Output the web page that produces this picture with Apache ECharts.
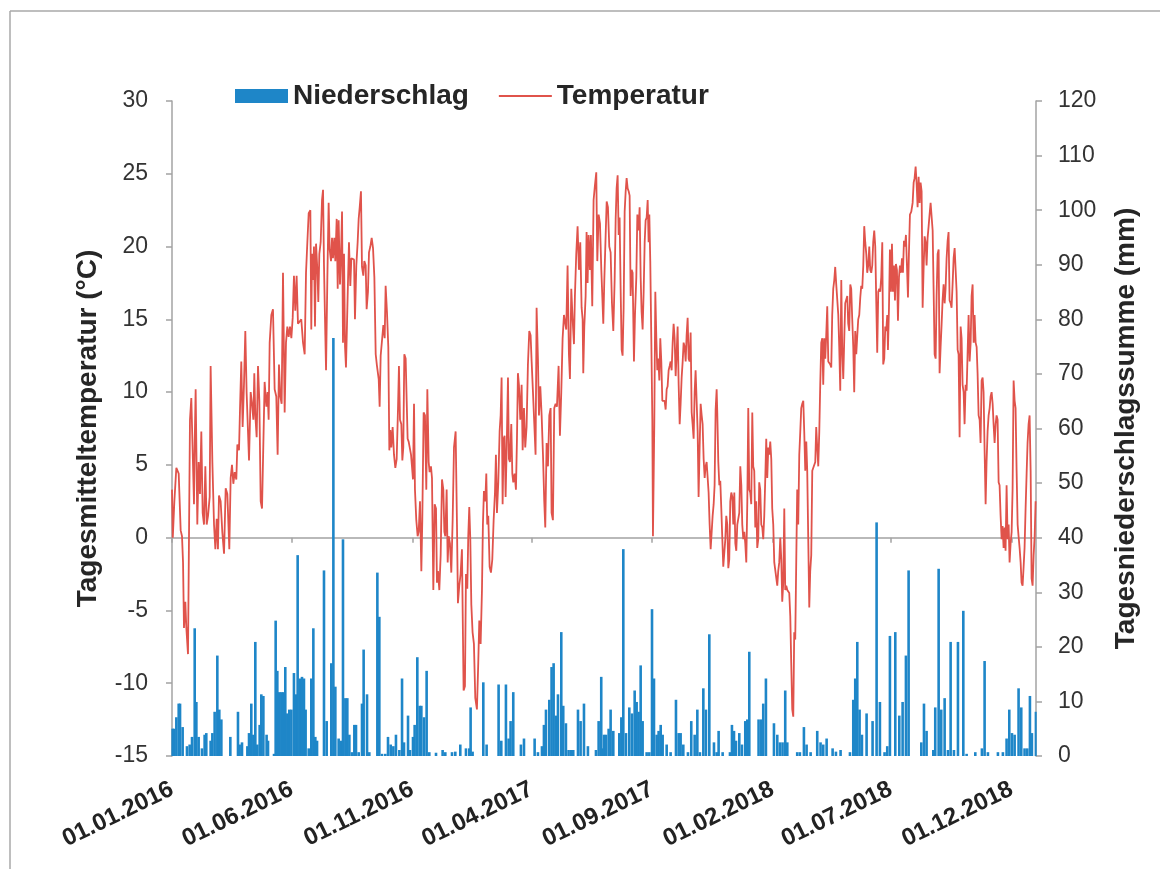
<!DOCTYPE html>
<html>
<head>
<meta charset="utf-8">
<script src="https://cdn.jsdelivr.net/npm/echarts@6/dist/echarts.min.js"></script>
<style>html,body{margin:0;padding:0;background:#fff}#c{width:1160px;height:869px}</style>
</head>
<body>
<div id="c"></div>
<script>
// ---- data ----
const startDate = '2016-01-01';
const endDate = '2019-01-01';
const tickLabels = ['01.01.2016','01.06.2016','01.11.2016','01.04.2017','01.09.2017','01.02.2018','01.07.2018','01.12.2018'];
const seriesNames = ['Niederschlag', 'Temperatur'];
const leftAxisTitle = 'Tagesmitteltemperatur (°C)';
const rightAxisTitle = 'Tagesniederschlagssumme (mm)';

// [day offset since 01.01.2016, daily mean temperature °C]
const temperature = [
[0,3.3],[1,0.0],[3,2.5],[5.5,4.8],[8.5,4.4],[11,0.5],[12.7,0.1],[14,-1.7],[15.2,-6.2],[16.9,-4.4],[18.2,-6.2],[20.3,-8.0],[22.8,8.1],[24.5,9.6],[26.2,6.0],[27.9,2.3],[28.8,6.5],[30,10.2],[32.1,0.9],[33.8,5.2],[35.5,3.0],[37.2,7.3],[38.9,1.7],[40.6,0.9],[42.3,4.9],[44,0.9],[45.7,1.5],[47.8,2.8],[49,11.8],[51.2,5.2],[53.3,0.9],[55,-0.8],[56.7,1.3],[58.3,-0.8],[59.6,2.9],[61.7,2.5],[63.8,0.4],[66,-1.1],[68.1,3.4],[70.2,3.0],[72.7,-0.8],[74.4,4.1],[76.1,5.0],[77.8,3.7],[79.5,4.5],[81.6,4.0],[82.9,6.4],[85,6.0],[86.3,8.9],[87.9,12.1],[89.6,7.6],[91.3,10.5],[93,14.2],[94.7,9.9],[96.4,7.3],[97.7,5.3],[99.8,10.0],[101.5,9.2],[103.2,8.1],[104.4,11.3],[105.7,8.4],[107.4,6.9],[109.1,11.8],[110.8,9.4],[112.5,2.5],[114.2,2.0],[116.3,1.9],[117.5,10.7],[119.7,9.0],[121.3,10.0],[122.6,8.1],[123.9,13.4],[126,15.3],[128.1,15.7],[130.2,10.2],[132.3,9.7],[134,5.7],[135.7,11.9],[137.4,9.7],[139.1,9.2],[140.8,18.2],[142.9,8.6],[144.6,13.4],[146.3,14.5],[148,13.8],[149.7,14.5],[151.4,13.7],[153.1,15.1],[154.7,18.0],[156.4,15.6],[158.1,18.0],[159.8,14.7],[161.9,14.6],[164,15.0],[166.2,13.4],[168.3,12.6],[170,18.2],[171.7,20.3],[173.4,22.3],[175.5,22.5],[176.7,14.3],
[177.6,19.5],[178.9,17.7],[180.1,20.0],[181.4,14.5],[182.7,20.2],[184.4,18.4],[185.6,16.2],[186.9,19.5],[188.6,20.3],[190.3,23.2],[191.6,23.9],[192.8,18.7],[194.5,13.9],[195.4,11.5],[197.1,17.9],[198.7,23.0],[200,19.8],[201.7,19.0],[203,20.6],[204.2,19.2],[205.9,20.6],[207.2,19.0],[208.9,21.9],[210.2,17.1],[211.4,21.8],[213.1,17.4],[214.4,19.5],[215.7,22.4],[216.9,13.4],[218.2,19.5],[219.5,13.1],[220.7,11.7],[222,14.7],[223.3,17.7],[224.5,20.3],[226.2,17.3],[227.5,19.2],[229.2,19.2],[230.9,19.1],[232.1,15.0],[233.8,18.7],[235.5,20.3],[236.8,21.9],[238.1,22.7],[239.7,23.8],[241,18.6],[242.7,18.0],[244,19.0],[245.7,18.7],[246.9,15.7],[248.6,16.9],[249.9,19.6],[251.6,20.0],[253.3,20.6],[255,19.9],[256.7,17.9],[258.4,12.6],[260,11.8],[262.2,10.9],[263.4,9.0],[264.7,12.5],[266.4,12.6],[268.1,14.6],[269.8,13.7],[271,17.3],[272.7,15.5],[274.4,13.1],[275.7,6.0],[277,7.4],[278.2,6.2],[279.9,7.6],[281.6,5.7],[283.3,4.8],[285,5.4],[286.7,8.9],[287.9,11.8],[289.2,8.1],[290.9,7.8],[292.2,5.3],[293.4,6.2],[294.7,12.6],[296.4,12.3],[297.7,9.4],[298.9,6.8],[300.2,6.6],[301.5,6.5],[303.2,5.7],[304.4,4.9],[305.7,4.0],[307,9.2],[308.2,3.3],[309.9,1.2],[311.6,0.1],[312.9,0.4],[314.6,2.5],[316.3,-2.3],[317.5,1.2],[319.2,8.6],[320.9,8.4],[322.6,3.3],[323.9,10.2],[325.6,5.2],[326.8,4.5],[328.5,4.9],[329.8,4.1],[331.5,-3.6],[333.2,2.3],[334.9,2.0],[336.1,-3.1],[337.4,-2.3],[339.1,-3.6],[340.8,-1.2],[342.5,4.0],[344.2,3.3],[345.5,0.4],[346.7,0.1],[348.4,3.3],[349.7,-1.7],[351,0.1],[352.6,-0.4],[354.3,-2.4],[356,1.2],[357.7,6.2],[359.8,7.3],
[361.5,0.9],[362.7,-4.5],[364.4,-3.3],[366.1,-2.5],[367.8,-0.8],[369.1,-6.8],[369.9,-10.5],[371.6,-10.2],[372.9,-2.5],[374.6,-3.5],[375.8,0.1],[377.1,2.1],[378.4,-0.1],[379.7,-4.6],[381.3,-6.5],[383,-7.3],[384.7,-11.0],[386.8,-11.8],[388.5,-8.6],[389.8,-5.7],[391.5,-7.3],[393.2,-3.6],[394.4,0.9],[395.7,3.2],[397.4,2.5],[398.7,4.4],[399.9,0.9],[401.2,1.5],[402.9,-2.0],[404.6,-2.4],[406.3,-1.5],[408,1.2],[409.7,3.1],[410.9,5.7],[412.2,1.7],[413.9,3.8],[415.6,7.3],[416.9,8.4],[418.1,11.0],[419.4,2.3],[420.7,6.8],[421.9,7.0],[423.2,2.8],[424.5,6.0],[426.2,11.0],[427.4,5.4],[428.7,5.2],[430.4,7.8],[431.7,4.4],[432.9,3.8],[434.6,4.4],[436.3,3.3],[437.6,6.8],[438.8,11.3],[440.1,10.5],[441.8,8.1],[443.5,10.5],[444.8,6.0],[446.5,8.9],[448.1,6.2],[449.8,7.6],[451.5,11.9],[453.2,14.2],[454.9,13.9],[456.2,12.1],[457.9,10.0],[459.6,7.8],[461.2,5.7],[462.5,15.8],[464.2,12.3],[465.5,8.4],[467.2,10.4],[468.9,8.4],[470.6,5.7],[472.2,2.5],[473.5,0.7],[475.2,6.5],[476.9,4.9],[478.6,8.4],[480.3,8.9],[481.5,1.7],[483.2,1.2],[484.9,8.9],[486.6,9.2],[488.3,9.0],[490.4,11.8],[492.1,7.0],[493.8,10.0],[495.5,13.7],[497.2,15.3],[498.9,15.3],[500.1,14.3],[501.8,18.7],[503.5,12.6],[504.8,10.9],[506.5,17.1],[508.2,15.0],[509.9,13.3],[511.1,16.6],[512.8,19.5],[514.5,21.4],[516.2,18.4],[517.9,20.3],[519.6,15.8],[520.9,15.0],[521.7,11.3],[523,14.5],[524.7,16.6],[525.9,21.0],[527.2,17.5],[528.5,20.8],[530.2,18.4],[531.4,20.8],[533.1,15.9],[534.8,23.2],[536.5,24.2],[538.2,25.1],[539.5,19.0],[541.2,22.2],
[542.9,21.6],[544.6,18.4],[545.9,16.5],[547.1,14.7],[548.4,17.7],[550.1,20.8],[551.4,23.1],[553,22.7],[554.7,20.0],[556.4,19.6],[558.1,16.1],[559.8,14.2],[561.5,17.7],[562.8,21.9],[564,24.0],[565.3,24.9],[566.6,20.8],[567.8,22.0],[569.1,17.1],[570.4,12.9],[571.6,12.5],[572.9,15.8],[574.2,22.4],[575.5,23.8],[576.7,24.7],[578,24.0],[579.3,23.8],[580.5,23.5],[581.8,16.6],[583.1,18.4],[584.3,18.2],[586,12.1],[587.3,15.3],[589,17.9],[590.3,22.2],[591.9,21.1],[593.2,22.7],[594.5,17.9],[595.7,15.5],[597,14.3],[598.3,16.9],[599.6,20.3],[600.8,21.8],[602.1,22.0],[603.4,23.2],[604.6,20.3],[605.5,22.2],[606.7,19.0],[608,13.7],[609.3,8.1],[610.1,0.1],[611,0.0],[611.8,7.8],[613.1,16.9],[614.4,13.7],[615.6,11.5],[616.9,12.3],[618.2,10.8],[619.4,13.7],[620.7,12.1],[622,9.4],[623.7,9.3],[624.9,9.4],[626.2,8.8],[627.5,10.2],[628.7,10.4],[630,11.5],[631.3,11.8],[632.5,12.1],[633.8,11.5],[635.1,13.4],[636.3,14.7],[637.6,13.7],[638.9,11.1],[640.1,12.6],[641.4,14.5],[642.7,10.5],[644,7.8],[645.2,9.2],[646.5,11.0],[647.8,12.1],[649,13.4],[650.3,13.1],[651.6,12.1],[652.8,13.9],[654.1,15.1],[655.4,12.3],[656.6,12.1],[657.9,14.1],[659.2,8.6],[660.4,7.8],[661.7,6.8],[663,10.0],[664.2,11.5],[665.5,9.4],[666.8,7.3],[668,2.8],[669.3,6.2],[670.6,9.2],[671.9,8.4],[673.1,7.8],[674.4,5.4],[675.7,4.1],[676.9,4.9],[678.2,5.2],[679.5,5.2],[680.7,3.1],[682,0.9],[683.3,-0.8],[684.5,-0.8],[685.8,1.5],[687.1,2.3],[688.3,3.6],[689.6,8.8],[690.9,10.2],[691.7,8.6],[693,5.2],[694.3,3.6],[695.5,3.9],[696.8,2.0],[698.1,-0.1],[699.3,-2.0],[700.6,-2.1],[701.9,-0.1],[703.1,1.5],[704.4,0.9],[705.7,-2.1],[706.9,-1.5],[708.2,2.5],[709.5,3.1],[710.8,2.8],[712,0.9],[713.3,3.1],[714.6,-0.4],[715.8,-0.9],[717.1,0.9],[718.4,0.9],[719.6,1.7],[720.9,4.9],[722.2,3.6],[723.4,0.9],[724.7,-0.1],[726,0.4],[727.2,-0.4],[728.5,-1.7],[729.8,2.5],[731,8.9],
[732.3,3.3],[733.5,3.1],[734.8,2.3],[736.1,8.6],[737.3,4.9],[738.6,4.6],[739.9,0.7],[741.1,2.5],[742.4,-0.7],[743.7,-0.1],[744.9,3.8],[746.2,3.3],[747.5,0.9],[748.8,0.7],[750,-0.1],[751.3,1.5],[752.6,4.1],[753.8,6.8],[755.1,4.1],[756.4,6.2],[757.6,5.7],[758.9,6.6],[760.2,5.4],[761.4,2.0],[762.7,0.9],[764,-1.7],[765.2,-1.6],[766.5,-1.7],[767.8,-3.3],[769,-2.3],[770.3,-1.7],[771.6,0.0],[772.9,-1.5],[774.1,-4.4],[775.4,-3.1],[776.7,2.0],[777.9,-3.6],[779.2,-3.3],[780.5,-3.6],[781.7,-3.7],[783,-3.8],[784.3,-5.4],[785.5,-8.6],[786.8,-11.8],[788.1,-12.3],[789.3,-6.5],[790.6,-7.0],[791.9,-1.5],[793.1,3.3],[794.4,0.9],[795.7,5.7],[797,7.3],[798.2,8.9],[799.5,9.2],[800.8,9.4],[802,7.3],[803.3,4.6],[804.6,6.6],[805.8,4.6],[807.1,-0.1],[808.4,-4.8],[809.6,-2.3],[810.9,-1.2],[812.2,4.6],[813.4,4.6],[814.7,4.6],[816,5.2],[817.2,7.6],[818.5,6.2],[819.8,4.9],[821.1,7.3],[822.3,10.5],[823.6,13.4],[824.9,13.7],[826.1,10.5],[827.4,13.7],[828.7,12.3],[829.9,13.9],[831.2,15.9],[832.5,12.1],[833.7,12.1],[835,11.9],[836.3,11.7],[837.5,15.3],[838.8,17.1],[840.1,17.7],[841.3,18.6],[842.6,17.4],[843.9,17.3],[845.2,15.3],[846.4,13.1],[847.7,10.1],[849,17.7],[850.2,12.9],[851.5,10.9],[852.8,13.7],[854,16.1],[855.3,16.1],[856.6,16.6],[857.8,14.7],[859.1,14.2],[860.4,17.4],[861.6,17.1],[862.9,15.0],[864.2,13.1],[865.4,10.0],[866.7,14.2],[868,12.6],[869.3,13.9],[870.5,15.0],[871.8,15.3],[873.1,16.5],[874.3,17.3],[875.6,17.1],[876.9,18.7],[878.1,21.4],[879.4,20.3],[880.7,19.5],[881.9,18.2],[883.2,18.7],[884.5,20.0],[885.7,18.4],[887,18.2],[888.3,18.7],[889.5,20.3],[890.8,21.1],[892.1,20.0],[893.4,16.1],[894.6,12.7],[895.9,16.9],[897.2,17.1],[898.4,16.9],[899.7,17.9],[901,20.3],[902.2,11.9],[903.5,12.3],[904.8,14.5],[906,14.2],[907.3,15.3],
[908.2,12.9],[909.5,15.8],[910.7,19.8],[912,16.9],[913.3,20.2],[914.5,16.9],[915.8,18.7],[917.1,16.3],[918.3,18.8],[919.6,18.4],[920.9,14.9],[922.2,17.9],[923.4,18.7],[924.7,18.2],[926,19.2],[927.2,18.2],[928.5,20.4],[929.8,20.0],[931,20.8],[932.3,18.7],[933.6,16.5],[934.8,19.5],[936.1,22.2],[937.8,22.4],[939.5,23.0],[940.8,24.4],[942,24.7],[943.3,25.5],[944.6,24.3],[945.8,22.7],[947.1,24.8],[948.4,23.0],[949.6,24.4],[950.9,23.8],[952.2,15.8],[953.4,18.4],[954.7,20.7],[956,20.3],[957.2,18.7],[958.5,20.6],[959.8,21.4],[961,22.2],[962.3,23.0],[963.6,23.1],[964.9,21.1],[966.1,17.1],[967.4,12.6],[968.7,12.3],[969.9,16.6],[971.2,19.5],[972.5,19.8],[973.7,11.3],[975,13.1],[976.3,14.7],[977.5,16.3],[978.8,17.4],[980.1,16.1],[981.3,17.1],[982.6,19.2],[983.9,20.4],[985.1,21.0],[986.4,16.3],[987.7,16.1],[988.9,15.8],[990.2,17.4],[991.5,19.2],[992.8,19.9],[994,19.8],[995.3,16.9],[996.6,12.9],[997.8,12.6],[999.1,6.9],[1000.4,14.5],[1001.6,13.7],[1002.9,10.5],[1004.2,10.0],[1005.4,7.8],[1006.7,10.5],[1008,10.1],[1009.2,12.6],[1010.5,15.3],[1011.8,12.1],[1013.1,13.4],[1014.3,16.6],[1015.6,17.4],[1016.9,13.4],[1018.1,15.3],[1019.4,13.4],[1020.7,13.1],[1021.9,11.3],[1023.2,8.4],[1024.5,8.1],[1025.7,6.5],[1027,10.8],[1028.3,11.0],[1029.5,10.0],[1030.8,6.0],[1032.1,2.3],[1033.3,5.2],[1034.6,7.3],[1035.9,8.4],[1037.2,8.9],[1038.4,9.7],[1039.7,10.0],[1041,9.2],[1042.2,7.8],[1043.5,6.5],[1044.8,7.8],[1046,8.4],[1047.3,8.1],[1048.6,3.8],[1049.8,3.6],[1051.1,1.5],[1052.4,-0.1],[1053.6,0.8],[1054.9,-0.7],[1056.2,0.7],[1057.4,-0.9],[1058.7,3.6],[1060,-0.1],[1061.3,0.9],[1062.5,-1.7],[1063.8,-0.4],[1065.1,0.4],[1066.3,3.3],[1067.6,10.8],[1068.9,9.4],[1070.1,8.9],[1071.4,4.6],[1072.7,0.9],[1073.9,0.1],[1075.2,-0.7],[1076.5,-1.7],[1077.7,-3.1],[1079,-3.3],[1080.3,-2.0],[1081.5,-0.7],[1082.8,2.0],[1084.1,4.4],[1085.3,6.5],[1086.6,7.8],[1087.9,8.4],[1089.2,4.6],[1090.4,-2.8],[1091.7,-3.3],[1093,-1.2],[1094.3,0.1],[1095.5,2.5]
];

// [day offset since 01.01.2016, daily precipitation mm]
const precipitation = [
[0.8,5.0],[2.5,5.0],[5.5,7.1],[8.5,9.6],[10.2,9.6],[13.5,5.3],[19,1.8],[22.4,2.1],[25.4,3.5],[28.8,23.4],[30.9,9.9],[33.8,3.5],[38,1.4],[41.4,3.9],[43.5,4.2],[49,2.8],[51.2,4.2],[54.1,8.1],[57.5,18.4],[60,8.5],[62.6,6.7],[74,3.5],[83.7,8.1],[85.8,2.1],[88.8,2.5],[95.6,1.8],[97.7,4.2],[100.6,9.6],[103.2,3.9],[105.7,20.9],[108.2,2.1],[111.2,5.7],[113.3,11.3],[115.9,11.0],[120,3.9],[121.8,2.8],[129.4,0.4],[131.5,24.8],[133.6,15.6],[136.1,11.7],[138.7,11.7],[141.2,11.7],[143.7,16.3],[146.3,7.8],[148.8,8.5],[151.4,8.5],[154.7,15.2],[156.9,11.3],[159.4,36.8],[162,14.2],[164.9,14.5],[167.4,14.2],[169.5,8.5],[173.4,1.4],[176.7,14.2],[179.3,23.4],[181.8,3.5],[184,2.8],
[192.8,34.0],[196.2,6.4],[202.1,17.0],[204.7,76.6],[207.2,12.7],[211.4,3.2],[214,2.8],[216.9,39.7],[219.9,10.6],[222.4,10.6],[225,3.9],[228.3,0.7],[231.3,5.7],[233.4,5.7],[236.8,0.7],[241,9.6],[243.1,19.5],[247.4,11.3],[250.3,0.7],[260.5,33.6],[263,25.5],[266.4,0.4],[270.6,0.4],[274,3.5],[277.4,2.1],[280.8,1.8],[284.1,3.9],[288.4,1.1],[291.8,14.2],[294.3,2.5],[299.4,7.4],[301.9,1.1],[305.7,3.5],[307.8,5.7],[311.2,18.1],[314.2,9.2],[316.3,9.2],[319.7,7.1],[323,15.6],[326.4,0.7],[334.9,0.6],[343.3,1.1],[346.7,0.7],[355.2,0.7],[359.4,0.8],[365.7,2.1],
[372.9,1.4],[377.1,1.4],[378.8,8.9],[381.3,0.8],[394.9,13.5],[399.1,2.1],[414.3,13.1],[417.7,2.8],[423.6,13.1],[427,3.2],[429.5,6.4],[432.9,11.7],[442.6,2.1],[446.5,3.2],[460,3.2],[464.2,0.7],[469.3,1.8],[471.8,5.7],[474.4,8.5],[478.6,10.3],[481.5,16.3],[484.1,17.0],[487,7.4],[489.6,11.3],[493.8,22.7],[496.3,9.2],[499.7,6.0],[503.1,1.1],[506.5,1.1],[509,1.1],[515,8.5],[518.3,6.4],[522.6,9.6],[527.6,1.8],[537.8,1.1],[541.2,6.4],[544.5,14.5],[547.1,1.4],
[548,3.9],[550.5,3.9],[553.9,5.0],[556.4,8.5],[559.8,4.6],[567.4,4.2],[570,7.1],[572.5,37.9],[575.9,4.2],[580.1,8.9],[583.5,7.8],[586.9,12.0],[589.4,9.9],[591.9,8.1],[594.5,16.6],[597,6.4],[602.1,0.7],[605.5,0.7],[608.9,26.9],[611.4,14.2],[614.8,3.9],[617.3,4.6],[619.9,5.7],[622.4,3.9],[627.5,2.1],[632.5,0.7],[639.3,10.3],[642.7,4.2],[645.2,4.2],[648.6,2.1],[654.5,0.7],[658.7,6.4],[663,3.9],[666.4,8.5],[669.7,0.7],[674,12.4],[677.3,8.5],[681.6,22.3],[687.5,2.5],[690.9,0.7],[693.4,4.6],[698.5,0.7],[707.8,0.7],[710.3,5.7],[712.9,4.6],[715.4,2.8],[719.6,4.2],[723,2.1],[727.2,6.4],[729.8,6.7],[732.3,19.1],
[744.1,6.7],[747.5,6.7],[750,9.6],[753.4,14.2],[763.6,6.0],[767.8,3.9],[771.2,2.5],[774.5,2.5],[777.9,12.0],[780.5,2.5],[793.1,0.7],[796.5,0.7],[801.6,5.3],[805,2.1],[810.1,0.7],[818.5,4.6],[822.7,2.5],[826.1,2.1],[830.4,3.2],[838,1.4],[842.2,0.8],[848.1,1.1],[860,0.7],[864.2,10.3],[866.7,14.2],[869.3,20.9],[872.2,8.5],[875.2,3.9],[881.1,7.8],[888.7,6.4],[893.8,42.8],[898,9.9],[903.9,0.7],[907.3,1.8],[910.7,22.0],
[917.5,22.7],[922.6,7.4],[926.8,9.9],[931,18.4],[934.4,34.0],[950.5,2.5],[953.9,9.6],[957.2,4.6],[965.7,1.1],[968.2,8.9],[972.5,34.3],[975.8,8.5],[980.1,10.6],[984.3,1.1],[987.7,20.9],[991.9,1.1],[997,20.9],[1003.8,26.6],[1008,0.4],[1019,0.7],[1027.4,1.4],[1030.8,17.4],[1035,0.7],[1047.7,0.7],[1054,0.7],[1058.7,3.2],[1062.1,8.5],[1065.5,4.2],[1068.9,3.9],[1073.9,12.4],[1077.3,8.9],[1081.5,1.4],[1084.9,1.4],[1088.3,11.0],[1090.8,4.2],[1095.9,8.1]
];

// ---- helpers ----
const DAY = 86400000;
function parseDE(s) { const p = s.split('.'); return Date.UTC(+p[2], +p[1] - 1, +p[0]); }
function parseISO(s) { const p = s.split('-'); return Date.UTC(+p[0], +p[1] - 1, +p[2]); }
const t0 = parseISO(startDate);
const xMax = (parseISO(endDate) - t0) / DAY;
const tickDays = tickLabels.map(s => Math.round((parseDE(s) - t0) / DAY));
function dayToLabel(v) {
  const i = tickDays.indexOf(Math.round(v));
  return i >= 0 ? tickLabels[i] : '';
}

const FONT = 'Liberation Sans, Arial, sans-serif';
const AXIS_GRAY = '#a3a3a3';
const BLUE = '#1E86C8';
const RED = '#E0534B';

const chart = echarts.init(document.getElementById('c'), null, { renderer: 'canvas' });
chart.setOption({
  backgroundColor: '#ffffff',
  animation: false,
  textStyle: { fontFamily: FONT },
  graphic: [
    { type: 'line', shape: { x1: 10, y1: 11, x2: 1160, y2: 11 }, style: { stroke: '#a8a8a8', lineWidth: 1.5 } },
    { type: 'line', shape: { x1: 10, y1: 11, x2: 10, y2: 869 }, style: { stroke: '#a8a8a8', lineWidth: 1.5 } }
  ],
  legend: {
    left: 230, top: 77,
    itemWidth: 53, itemHeight: 14, itemGap: 30,
    textStyle: { fontSize: 28, fontWeight: 'bold', color: '#262626', fontFamily: FONT },
    data: [
      { name: seriesNames[0], icon: 'rect' },
      { name: seriesNames[1], icon: 'path://M0,0 L53,0 L53,2 L0,2 Z', itemStyle: { color: RED } }
    ]
  },
  grid: { left: 172, right: 124, top: 101, bottom: 113, containLabel: false, outerBoundsMode: 'none' },
  xAxis: [
    {
      type: 'value', min: 0, max: xMax, position: 'bottom',
      axisLine: { show: false, onZero: false },
      axisTick: { show: false },
      splitLine: { show: false },
      axisLabel: {
        customValues: tickDays, formatter: dayToLabel,
        rotate: 26, margin: 32, fontSize: 24, fontWeight: 'bold', color: '#222', fontFamily: FONT
      }
    },
    {
      type: 'value', min: 0, max: xMax, position: 'bottom',
      axisLine: { show: true, onZero: true, onZeroAxisIndex: 0, lineStyle: { color: AXIS_GRAY, width: 1.5 } },
      axisTick: { show: true, customValues: tickDays, length: 5, lineStyle: { color: AXIS_GRAY, width: 1.5 } },
      axisLabel: { show: false },
      splitLine: { show: false }
    }
  ],
  yAxis: [
    {
      type: 'value', min: -15, max: 30, interval: 5, position: 'left',
      axisLine: { show: true, onZero: false, lineStyle: { color: AXIS_GRAY, width: 1.5 } },
      axisTick: { show: true, length: 6, lineStyle: { color: AXIS_GRAY, width: 1.5 } },
      splitLine: { show: false },
      axisLabel: { fontSize: 23, color: '#333', margin: 24, fontFamily: FONT },
      name: leftAxisTitle, nameLocation: 'middle', nameGap: 70,
      nameTextStyle: { fontSize: 28, fontWeight: 'bold', color: '#262626', fontFamily: FONT }
    },
    {
      type: 'value', min: 0, max: 120, interval: 10, position: 'right',
      axisLine: { show: true, onZero: false, lineStyle: { color: AXIS_GRAY, width: 1.5 } },
      axisTick: { show: true, length: 6, lineStyle: { color: AXIS_GRAY, width: 1.5 } },
      splitLine: { show: false },
      axisLabel: { fontSize: 23, color: '#333', margin: 22, fontFamily: FONT },
      name: rightAxisTitle, nameLocation: 'middle', nameGap: 76,
      nameTextStyle: { fontSize: 28, fontWeight: 'bold', color: '#262626', fontFamily: FONT }
    }
  ],
  series: [
    {
      name: seriesNames[0], type: 'bar', xAxisIndex: 0, yAxisIndex: 1,
      data: precipitation, barWidth: 2.6,
      itemStyle: { color: BLUE }, z: 2
    },
    {
      name: seriesNames[1], type: 'line', xAxisIndex: 0, yAxisIndex: 0,
      data: temperature, symbol: 'none', showSymbol: false,
      lineStyle: { color: RED, width: 1.8 }, itemStyle: { color: RED }, z: 3
    }
  ]
});
</script>
</body>
</html>
